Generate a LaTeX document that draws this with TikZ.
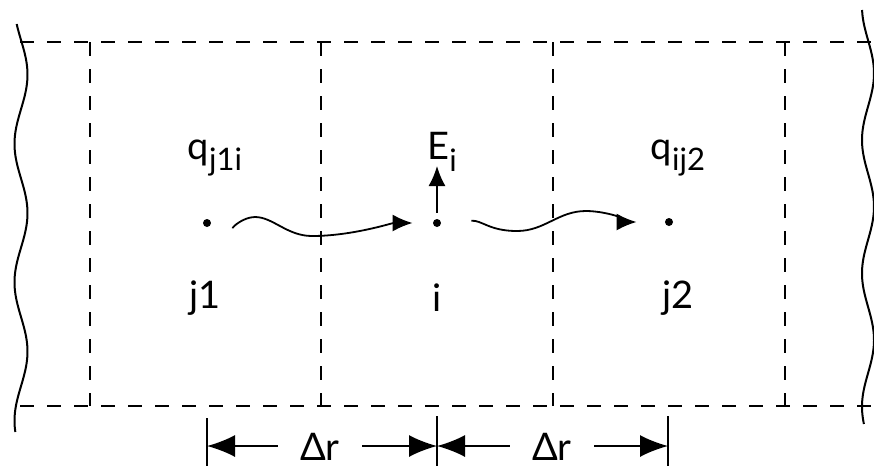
\documentclass[tikz,border=0pt]{standalone}
\usepackage{fontspec}
\setsansfont{Lato}
\usetikzlibrary{arrows.meta}

\newcommand{\lowsub}[1]{\raisebox{-0.6ex}{\fontsize{15.5}{17}\selectfont #1}}

\begin{document}
\begin{tikzpicture}[x=0.5pt,y=-0.5pt,>=Latex,
  cell/.style={line width=1.3pt,dash pattern=on 7pt off 6.5pt},
  cut/.style={line width=1pt,smooth},
  pt/.style={circle,fill,inner sep=0pt,minimum size=4pt},
  lbl/.style={font=\sffamily\fontsize{19}{22}\selectfont,inner sep=1pt},
  flow/.style={-{Latex[length=10pt,width=8.5pt]},line width=0.9pt},
  dim/.style={-{Latex[length=14pt,width=11pt]},line width=0.8pt},
  tick/.style={line width=1.2pt}]
  \useasboundingbox (0,0) rectangle (874,468);
  % cell boundaries
  \draw[cell] (20,42) -- (874,42);
  \draw[cell] (20,406) -- (874,406);
  \foreach \x in {90,321,553,785} \draw[cell] (\x,42) -- (\x,406);
  % cut edges of the strip
  \draw[cut,domain=24:432,samples=90] plot ({21+6.5*sin((\x-40)*2.6)},\x);
  \draw[cut,domain=10:424,samples=90] plot ({868+6*sin((\x-40)*2.7)},\x);
  % nodes
  \node[pt] (j1) at (207,223) {};
  \node[pt] (i) at (437,223) {};
  \node[pt] (j2) at (669,222) {};
  \node[lbl] (nj1) at (205,298) {j1};
  \node[lbl] (ni) at (437,298) {i};
  \node[lbl] (nj2) at (678,298) {j2};
  \node[lbl] (q1) at (215,158) {q\lowsub{j1i}};
  \node[lbl] (q2) at (678,158) {q\lowsub{ij2}};
  \node[lbl] (E) at (442,152) {E\lowsub{i}};
  \coordinate (ei) at (437,166);
  \coordinate (h1) at (255,217);
  \coordinate (w1) at (312,236);
  \coordinate (w2) at (517,231);
  \coordinate (w3) at (586,211);
  % heat flows
  \draw[flow,shorten <=11pt,shorten >=10pt] (j1) .. controls +(24,5) and +(-12,0) .. (h1)
    .. controls +(18,0) and +(-25,0) .. (w1) .. controls +(40,0) and +(-45,0) .. (i);
  \draw[flow,shorten <=15pt,shorten >=14pt] (i) .. controls +(45,-3) and +(-28,0) .. (w2)
    .. controls +(28,0) and +(-28,0) .. (w3) .. controls +(22,0) and +(-30,0) .. (j2);
  \draw[flow,shorten <=3pt] (i) -- (ei);
  % spacing
  \coordinate (t1) at (207,446);
  \coordinate (t2) at (437,446);
  \coordinate (t3) at (668,446);
  \draw[tick] (207,418) -- (207,466);
  \draw[tick] (437,416) -- (437,466);
  \draw[tick] (668,416) -- (668,466);
  \node[lbl] (dr1) at (320,447) {Δr};
  \node[lbl] (dr2) at (552,447) {Δr};
  \draw[dim,shorten <=10pt] (dr1.west |- t1) -- (t1);
  \draw[dim,shorten <=10pt] (dr1.east |- t1) -- (t2);
  \draw[dim,shorten <=10pt] (dr2.west |- t1) -- (t2);
  \draw[dim,shorten <=10pt] (dr2.east |- t1) -- (t3);
\end{tikzpicture}
\end{document}
